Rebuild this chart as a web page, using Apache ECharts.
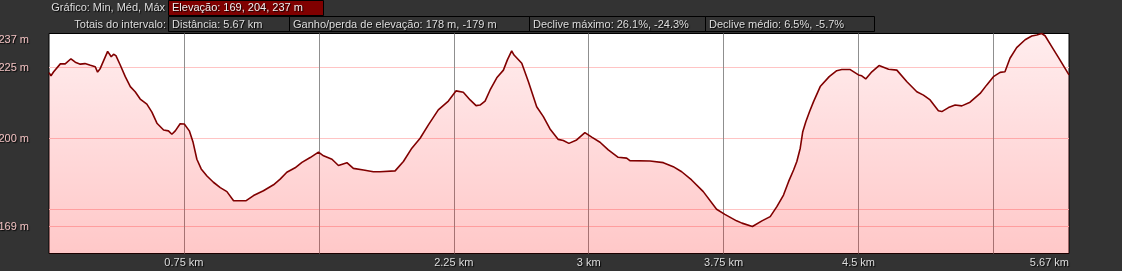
<!DOCTYPE html>
<html>
<head>
<meta charset="utf-8">
<style>
html,body{margin:0;padding:0;background:#333333;}
#chart{width:1122px;height:271px;}
</style>
<script src="https://cdn.jsdelivr.net/npm/echarts@6/dist/echarts.min.js"></script>
</head>
<body>
<div id="chart"></div>
<script>
// distance (km) along the route
const distanceKm = [0,0.011,0.026,0.063,0.09,0.122,0.146,0.174,0.2,0.23,0.257,0.27,0.285,0.326,0.346,0.359,0.372,0.396,0.424,0.452,0.479,0.507,0.544,0.572,0.6,0.637,0.664,0.683,0.702,0.729,0.752,0.78,0.8,0.822,0.846,0.878,0.914,0.952,0.989,1.026,1.096,1.137,1.192,1.248,1.285,1.322,1.368,1.406,1.452,1.498,1.526,1.573,1.609,1.656,1.692,1.748,1.803,1.84,1.924,1.97,2.017,2.063,2.109,2.164,2.22,2.263,2.303,2.341,2.374,2.396,2.424,2.452,2.489,2.526,2.548,2.572,2.585,2.628,2.665,2.711,2.748,2.785,2.831,2.859,2.89,2.933,2.979,3.017,3.063,3.109,3.164,3.211,3.229,3.341,3.415,3.47,3.517,3.572,3.637,3.711,3.757,3.822,3.852,3.91,3.963,4.009,4.046,4.083,4.111,4.139,4.157,4.176,4.19,4.207,4.228,4.25,4.287,4.337,4.379,4.407,4.454,4.5,4.518,4.54,4.574,4.614,4.667,4.713,4.769,4.824,4.861,4.898,4.944,4.963,5.0,5.037,5.074,5.12,5.176,5.213,5.25,5.287,5.314,5.342,5.379,5.426,5.463,5.491,5.518,5.537,5.574,5.611,5.67];
// elevation (m)
const elevationM = [223.2,222.1,223.5,226.3,226.3,228.1,226.9,226.2,226.4,225.8,225.3,223.4,224.7,230.7,228.8,229.7,229.2,225.9,221.8,218.3,216.5,213.9,212.1,209.3,205.4,203.0,202.7,201.5,202.7,205.2,205.1,202.7,198.9,192.7,189.3,186.8,184.6,182.7,181.3,178.1,178.1,179.9,181.6,183.7,185.7,188.1,189.7,191.6,193.3,195.2,193.9,192.7,190.5,191.5,189.5,188.9,188.3,188.3,188.6,191.9,196.6,200.1,204.8,210.1,213.2,216.8,216.3,213.6,211.6,211.8,213.2,217.1,221.4,224.1,227.7,230.9,229.4,226.5,220.0,211.2,207.7,203.4,199.7,199.3,198.3,199.5,202.1,200.5,198.7,196.0,193.4,193.1,192.2,192.1,191.5,190.1,188.3,185.4,181.3,175.1,173.3,171.0,170.2,169.0,171.0,172.5,176.0,180.1,184.8,188.9,191.9,196.6,202.4,205.9,209.5,213.0,218.3,221.8,223.9,224.3,224.3,222.4,222.1,221.0,223.5,225.7,224.4,224.1,220.0,216.5,215.3,213.6,209.8,209.5,210.9,211.8,211.5,212.8,215.9,218.9,221.8,223.3,223.5,228.3,232.0,234.8,236.1,236.5,237.0,236.2,232.4,228.6,222.4];

const xLabelValues = [0.75, 2.25, 3, 3.75, 4.5, 5.67];
const xGridValues = [0.75, 1.5, 2.25, 3, 3.75, 4.5, 5.25];
const yLabelValues = [169, 200, 225, 237];
const yGridValues = [169, 175, 200, 225];

const headerRow1Label = 'Gráfico: Min, Méd, Máx';
const headerRow1Value = 'Elevação: 169, 204, 237 m';
const headerRow2Label = 'Totais do intervalo:';
const headerRow2Values = ['Distância: 5.67 km', 'Ganho/perda de elevação: 178 m, -179 m', 'Declive máximo: 26.1%, -24.3%', 'Declive médio: 6.5%, -5.7%'];

const points = distanceKm.map((d, i) => [d, elevationM[i]]);

const FONT = '11px "Liberation Sans", Arial, sans-serif';
const shadow = {textShadowColor: 'rgba(0,0,0,0.9)', textShadowOffsetX: 1, textShadowOffsetY: 1, textShadowBlur: 1};

const boxEdges = [168, 289, 529, 705, 874];
const graphics = [];
graphics.push({type:'text', style:Object.assign({text: headerRow1Label, x:165, y:8, font: FONT, fill:'#dddddd', align:'right', verticalAlign:'middle'}, shadow)});
graphics.push({type:'rect', shape:{x:168.5, y:0.5, width:155, height:15}, style:{fill:'#800000', stroke:'#000', lineWidth:1}});
graphics.push({type:'text', style:Object.assign({text: headerRow1Value, x:172, y:8, font: FONT, fill:'#eeeeee', align:'left', verticalAlign:'middle'}, shadow)});
graphics.push({type:'text', style:Object.assign({text: headerRow2Label, x:166, y:24.5, font: FONT, fill:'#dddddd', align:'right', verticalAlign:'middle'}, shadow)});
for (let i = 0; i < headerRow2Values.length; i++) {
  const x0 = boxEdges[i], x1 = boxEdges[i+1];
  graphics.push({type:'rect', shape:{x:x0+0.5, y:16.5, width:x1-x0, height:15}, style:{fill:'transparent', stroke:'#000', lineWidth:1}});
  graphics.push({type:'text', style:Object.assign({text: headerRow2Values[i], x:x0+4, y:24.5, font: FONT, fill:'#dddddd', align:'left', verticalAlign:'middle'}, shadow)});
}

const chart = echarts.init(document.getElementById('chart'), null, {renderer:'canvas'});
chart.setOption({
  backgroundColor: '#333333',
  animation: false,
  grid: {left:49, top:33.5, width:1020, height:220, show:true, backgroundColor:'#ffffff', borderColor:'#000000', borderWidth:1, containLabel:false, outerBoundsMode:'none'},
  xAxis: {
    type:'value', min:0, max:5.67,
    axisLine:{show:false},
    axisTick:{show:false, customValues: xGridValues},
    splitLine:{show:true, lineStyle:{color:'#8f8f8f', width:1}},
    axisLabel:{
      customValues: xLabelValues, showMinLabel:true, showMaxLabel:true, alignMaxLabel:'right',
      formatter: v => v + ' km', color:'#dddddd', fontSize:11, fontFamily:'Liberation Sans', margin:4,
      textShadowColor:'rgba(0,0,0,0.9)', textShadowOffsetX:1, textShadowOffsetY:1, textShadowBlur:1
    }
  },
  yAxis: {
    type:'value', min:159.5, max:237,
    axisLine:{show:false},
    axisTick:{show:false, customValues: yGridValues},
    splitLine:{show:true, lineStyle:{color:'#ffc4c4', width:1}},
    axisLabel:{
      customValues: yLabelValues,
      formatter: v => v === 237 ? '{top|' + v + ' m}' : v + ' m',
      rich:{top:{padding:[12,0,0,0], color:'#f2c2c2', fontSize:11, fontFamily:'Liberation Sans'}},
      color:'#f2c2c2', fontSize:11, fontFamily:'Liberation Sans', margin:20,
      textShadowColor:'rgba(0,0,0,0.9)', textShadowOffsetX:1, textShadowOffsetY:1, textShadowBlur:1
    }
  },
  series: [{
    type:'line', data: points, showSymbol:false, symbol:'none',
    lineStyle:{color:'#800000', width:1.6},
    areaStyle:{origin:'start', color: new echarts.graphic.LinearGradient(0,0,0,1,[
      {offset:0, color:'rgba(255,0,12,0.10)'},
      {offset:1, color:'rgba(255,0,0,0.31)'}
    ])}
  }],
  graphic: graphics
});
</script>
</body>
</html>
